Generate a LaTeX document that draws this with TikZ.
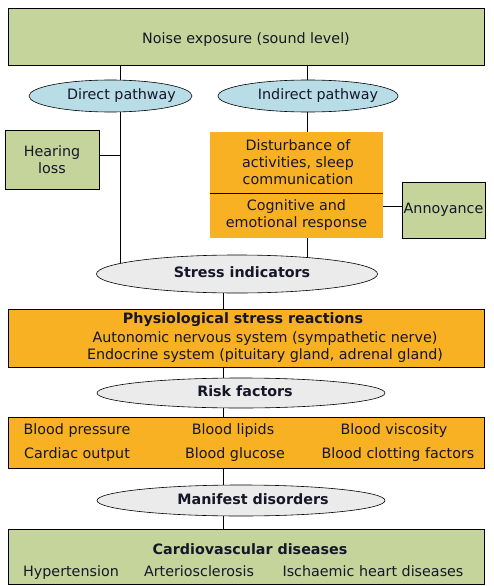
\documentclass[tikz,border=0pt]{standalone}
\usepackage{fontspec}
\setmainfont{DejaVu Sans}
\usetikzlibrary{shapes.geometric,backgrounds}
\definecolor{boxgreen}{RGB}{196,212,155}
\definecolor{boxorange}{RGB}{247,177,35}
\definecolor{ellblue}{RGB}{184,221,230}
\definecolor{ellgray}{RGB}{235,235,235}
\definecolor{txt}{RGB}{22,22,40}
\newcommand{\mainfs}{\fontsize{14.3}{17}\selectfont}
\tikzset{
  every node/.style={text=txt, font=\mainfs, inner sep=0pt},
  every label/.style={text=txt, inner sep=0pt, text height=10.5pt, text depth=3pt},
  greenbox/.style={draw=black, line width=0.8pt, fill=boxgreen, rectangle, align=center},
  orangebox/.style={fill=boxorange, rectangle, align=center},
  orangeframe/.style={draw=black, line width=0.8pt, fill=boxorange, rectangle},
  blueell/.style={draw=black, line width=0.6pt, fill=ellblue, ellipse},
  grayell/.style={draw=black, line width=0.6pt, fill=ellgray, ellipse},
  conn/.style={draw=black, line width=0.8pt},
  plain/.style={align=center, text height=10.5pt, text depth=3pt}
}
\begin{document}
\begin{tikzpicture}[x=1pt,y=-1pt]
\useasboundingbox (0,0) rectangle (494,586);
% positions of vertical connectors
\coordinate (xd) at (120,0);
\coordinate (xi) at (307,0);
\coordinate (xm) at (223,0);

\node[greenbox, minimum width=476, minimum height=57, text height=10.5pt, text depth=3pt] (noise) at (246,36.5) {\raisebox{-3pt}{Noise exposure (sound level)}};
\node[blueell, minimum width=163, minimum height=32, label={[xshift=11pt, font=\mainfs]center:Direct pathway}] (direct) at (110.5,96) {};
\node[blueell, minimum width=180, minimum height=32, label={[xshift=10pt, font=\mainfs]center:Indirect pathway}] (indirect) at (308,96) {};
\node[greenbox, minimum width=94, minimum height=59] (hearing) at (52,159.5) {Hearing\\loss};
\node[orangebox, minimum width=173, minimum height=61] (dist) at (296.5,162.5) {\hspace*{3pt}Disturbance of\\\hspace*{3pt}activities, sleep\\\hspace*{3pt}communication};
\node[orangebox, minimum width=173, minimum height=45] (cog) at (296.5,215.5) {Cognitive and\\emotional response};
\node[greenbox, minimum width=83, minimum height=56, text height=10.5pt, text depth=3pt] (annoy) at (443.5,210) {Annoyance};
\node[grayell, minimum width=281, minimum height=38, label={[xshift=5pt, font=\mainfs\bfseries]center:Stress indicators}] (stress) at (237,274) {};

\node[orangeframe, minimum width=476, minimum height=58] (physio) at (246,338) {};
\node[plain, font=\mainfs\bfseries] (physT) at (243,320) {Physiological stress reactions};
\node[plain] (physA) at (265,339) {Autonomic nervous system (sympathetic nerve)};
\node[plain] (physE) at (265,356) {Endocrine system (pituitary gland, adrenal gland)};

\node[grayell, minimum width=288, minimum height=30, label={[xshift=4pt, font=\mainfs\bfseries]center:Risk factors}] (risk) at (241,393) {};

\node[orangeframe, minimum width=476, minimum height=51] (riskbox) at (246,442.5) {};
\node[plain] (bp) at (77,431) {Blood pressure};
\node[plain] (bl) at (233,431) {Blood lipids};
\node[plain] (bv) at (394,431) {Blood viscosity};
\node[plain] (co) at (77,455) {Cardiac output};
\node[plain] (bg) at (235,455) {Blood glucose};
\node[plain] (bc) at (398,455) {Blood clotting factors};

\node[grayell, minimum width=288, minimum height=31, label={[xshift=12pt, font=\mainfs\bfseries]center:Manifest disorders}] (manifest) at (241,500.5) {};

\node[greenbox, minimum width=476, minimum height=55] (cvd) at (246,556.5) {};
\node[plain, font=\mainfs\bfseries] (cvdT) at (250,551) {Cardiovascular diseases};
\node[plain] (hyp) at (71,573) {Hypertension};
\node[plain] (art) at (199,573) {Arteriosclerosis};
\node[plain] (isc) at (373,573) {Ischaemic heart diseases};

\draw[conn] (dist.south west) -- (dist.south east);

\begin{scope}[on background layer]
\draw[conn] (noise.south -| xd) -- (direct.center -| xd);
\draw[conn] (noise.south -| xi) -- (indirect.center -| xi);
\draw[conn] (direct.center -| xd) -- (stress.center -| xd);
\draw[conn] ([yshift=4pt]hearing.east) -- ([yshift=4pt]hearing.east -| xd);
\draw[conn] (indirect.center -| xi) -- (dist.north -| xi);
\draw[conn] (cog.south -| xi) -- (stress.center -| xi);
\draw[conn] ([yshift=4pt]annoy.west) -- ([yshift=4pt]annoy.west -| cog.east);
\draw[conn] (stress.center -| xm) -- (physio.north -| xm);
\draw[conn] (physio.south -| xm) -- (risk.center -| xm);
\draw[conn] (risk.center -| xm) -- (riskbox.north -| xm);
\draw[conn] (riskbox.south -| xm) -- (manifest.center -| xm);
\draw[conn] (manifest.center -| xm) -- (cvd.north -| xm);
\end{scope}
\end{tikzpicture}
\end{document}
